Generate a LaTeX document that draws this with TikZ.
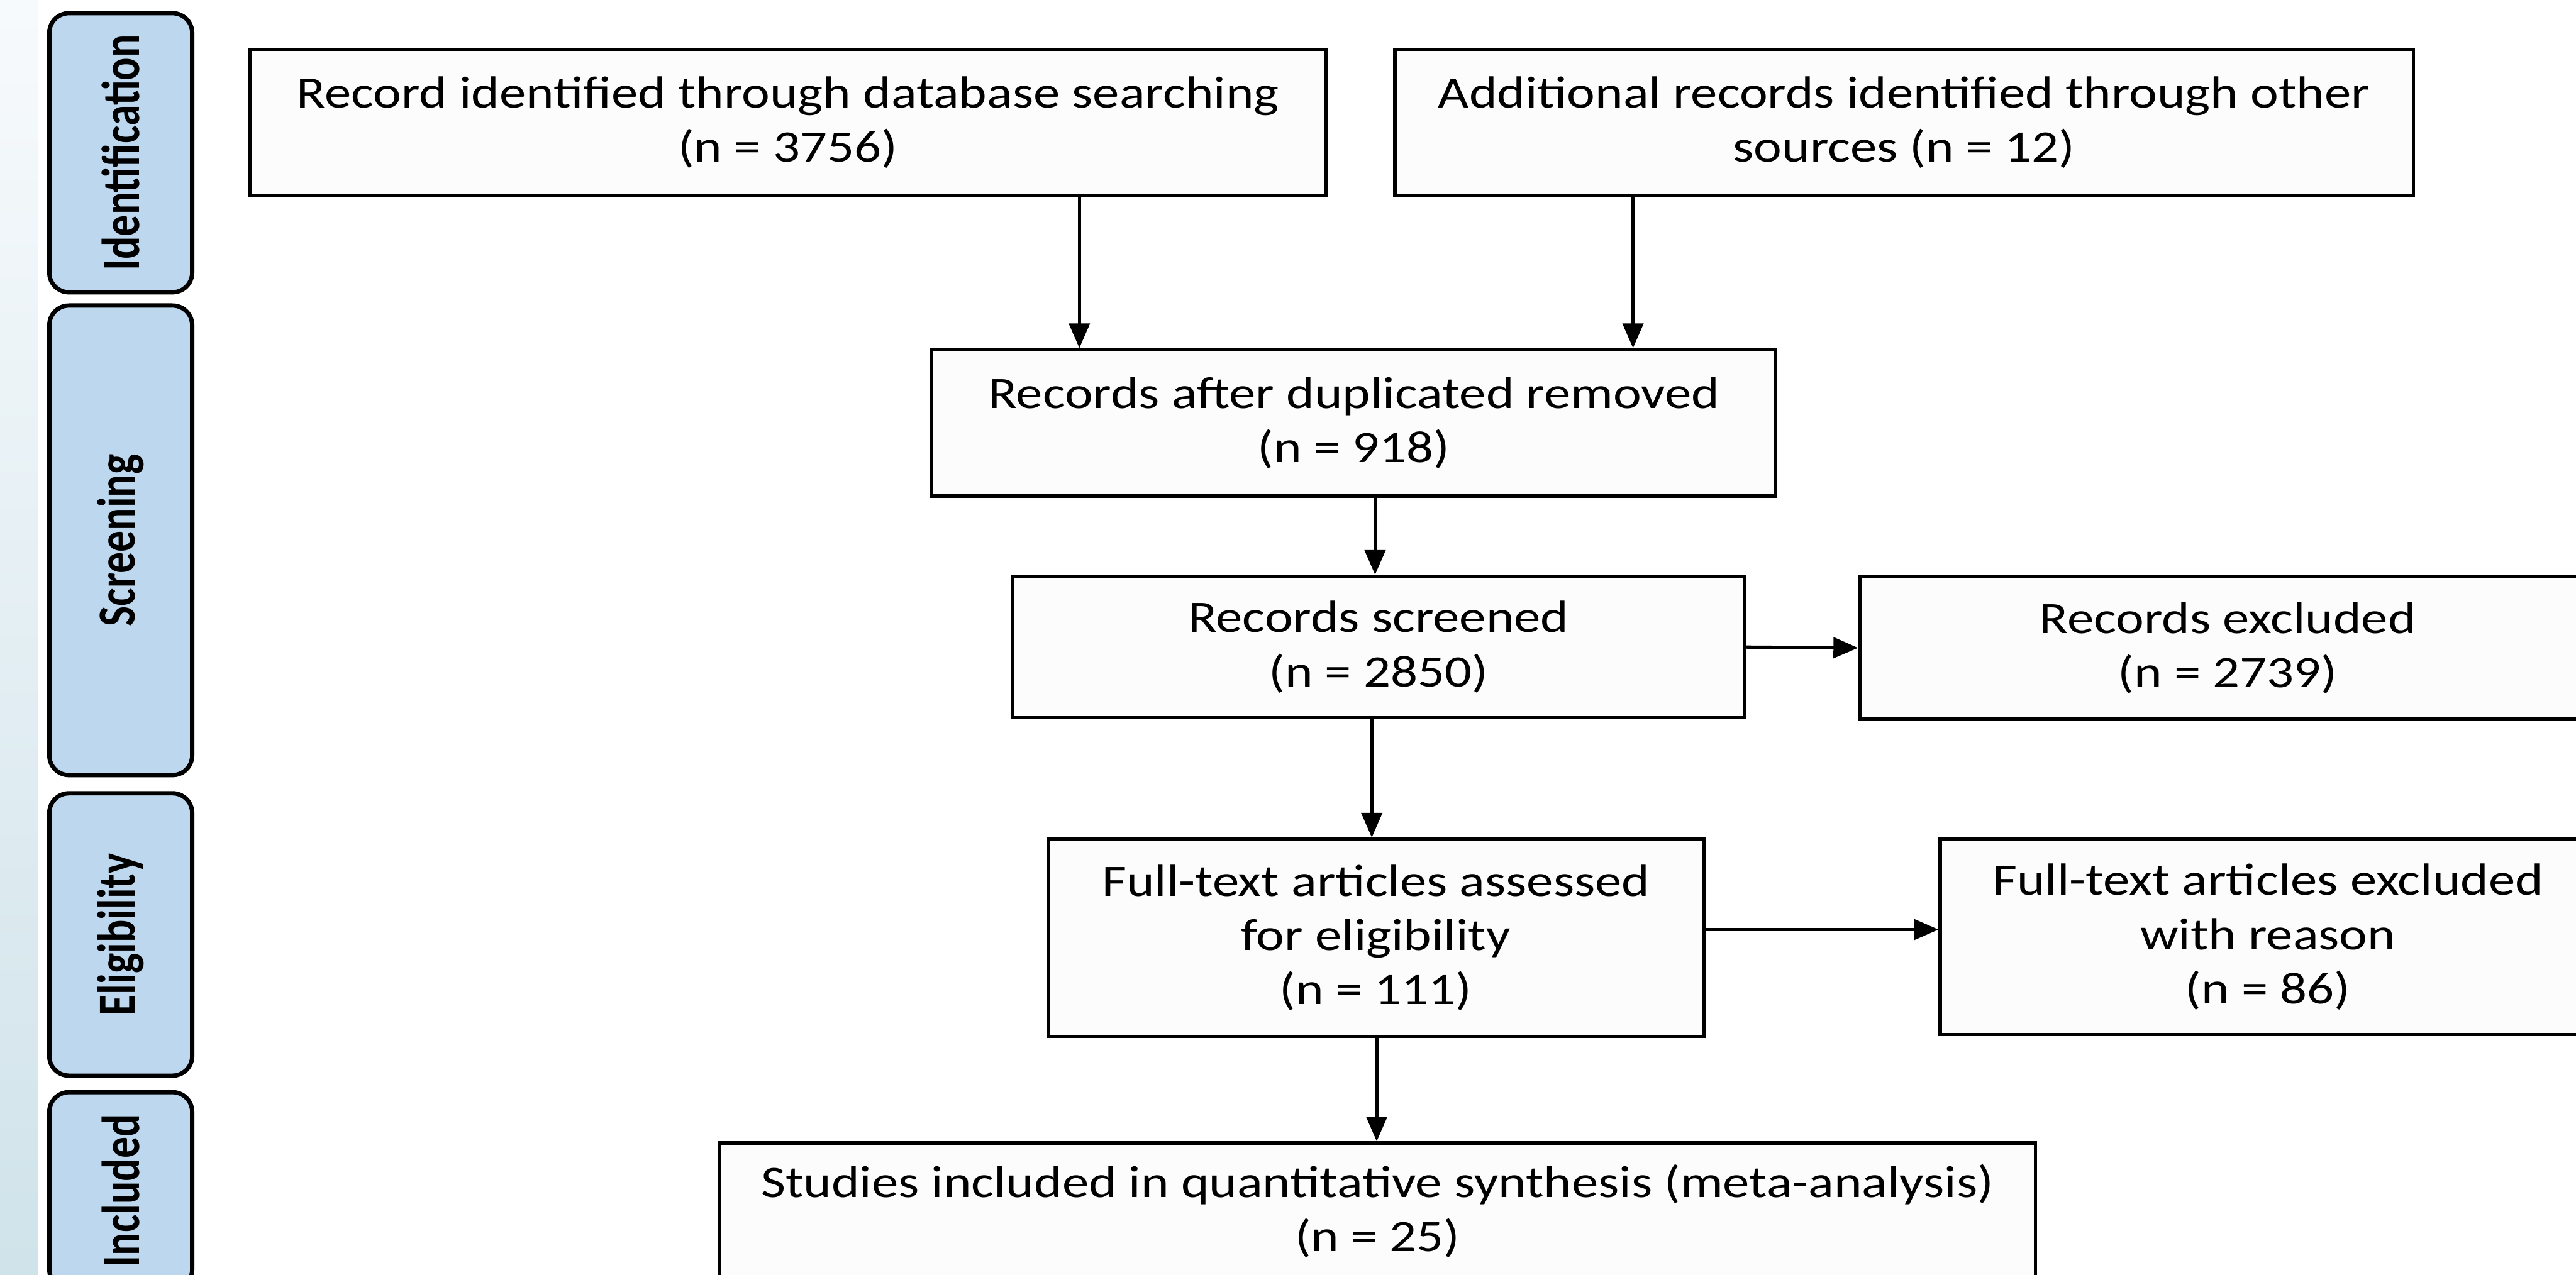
\documentclass[tikz,border=0pt]{standalone}
\usepackage{fontspec}
\setmainfont{Carlito}[FakeStretch=1.185]
\newfontfamily\phasefont{Carlito}[FakeStretch=0.8]
\usetikzlibrary{arrows.meta}
\definecolor{phasefill}{HTML}{BDD7EE}
\definecolor{boxfill}{HTML}{FCFCFC}
\definecolor{stripTop}{HTML}{F7FAFC}
\definecolor{stripBot}{HTML}{D0E3EA}
\begin{document}
\begin{tikzpicture}[x=0.02cm,y=-0.02cm,
  box/.style={draw=black, line width=1.2pt, fill=boxfill, align=center, inner sep=0pt,
    font=\fontsize{15.6}{18.8}\selectfont},
  phase/.style={draw=black, line width=1.5pt, fill=phasefill, rounded corners=0.24cm,
    inner sep=0pt, rotate=90, minimum height=1.74cm,
    font=\phasefont\bfseries\fontsize{18.5}{22}\selectfont},
  arr/.style={line width=1.1pt, -{Triangle[length=0.3cm,width=0.25cm]}}]
\useasboundingbox (0,0) rectangle (1568,776);
\fill[white] (0,0) rectangle (1568,776);
\shade[top color=stripTop, bottom color=stripBot] (0,0) rectangle (23,776);

% phase labels
\node[phase, minimum width=3.4cm]  (pid)  at (73.5,93)  {Identification};
\node[phase, minimum width=5.72cm] (pscr) at (73.5,329) {Screening};
\node[phase, minimum width=3.44cm] (pel)  at (73.5,569) {Eligibility};
\node[phase, minimum width=2.4cm]  (pinc) at (73.5,725) {Included};

% boxes
\node[box, minimum width=13.1cm, minimum height=1.78cm] (db) at (479.5,74.5)
  {Record identified through database searching\\(n = 3756)};
\node[box, minimum width=12.4cm, minimum height=1.78cm] (oth) at (1159,74.5)
  {Additional records identified through other\\sources (n = 12)};
\node[box, minimum width=10.28cm, minimum height=1.78cm] (dup) at (824,257.5)
  {Records after duplicated removed\\(n = 918)};
\node[box, minimum width=8.92cm, minimum height=1.72cm] (scr) at (839,394)
  {Records screened\\(n = 2850)};
\node[box, minimum width=8.96cm, minimum height=1.74cm] (exc) at (1356,394.5)
  {Records excluded\\(n = 2739)};
\node[box, minimum width=7.98cm, minimum height=2.4cm] (ft) at (837.5,571)
  {Full-text articles assessed\\for eligibility\\(n = 111)};
\node[box, minimum width=7.98cm, minimum height=2.38cm] (ftx) at (1380.5,570.5)
  {Full-text articles excluded\\with reason\\(n = 86)};
\node[box, minimum width=16.02cm, minimum height=1.66cm] (inc) at (838.5,737.5)
  {Studies included in quantitative synthesis (meta-analysis)\\(n = 25)};

% connectors
\coordinate (c1) at (657,0);
\coordinate (c2) at (994,0);
\coordinate (c3) at (837,0);
\coordinate (c4) at (835,0);
\coordinate (c5) at (838,0);
\coordinate (c6) at (0,566);
\draw[arr] (db.south -| c1) -- (dup.north -| c1);
\draw[arr] (oth.south -| c2) -- (dup.north -| c2);
\draw[arr] (dup.south -| c3) -- (scr.north -| c3);
\draw[arr] (scr.south -| c4) -- (ft.north -| c4);
\draw[arr] (ft.south -| c5) -- (inc.north -| c5);
\draw[arr] (scr.east) -- (exc.west);
\draw[arr] (ft.east |- c6) -- (ftx.west |- c6);
\end{tikzpicture}
\end{document}
